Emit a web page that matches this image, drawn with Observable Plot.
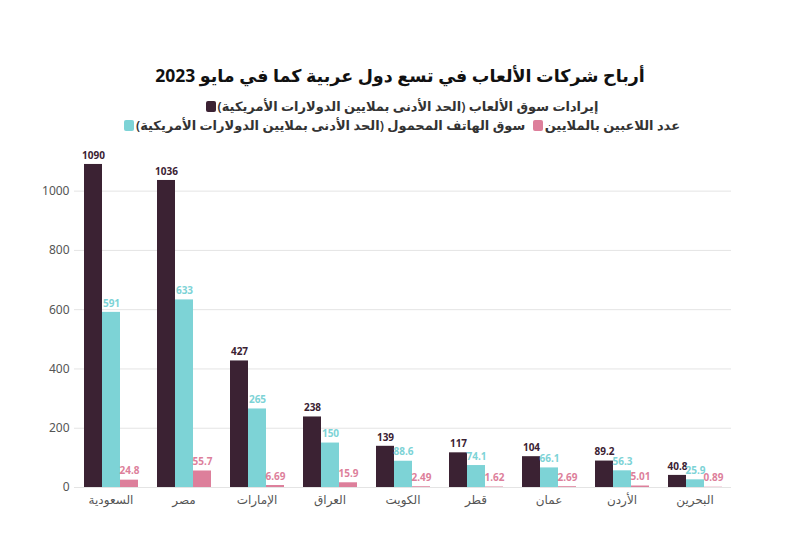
<!DOCTYPE html>
<html>
<head>
<meta charset="utf-8">
<script src="https://cdn.jsdelivr.net/npm/d3@7"></script>
<script src="https://cdn.jsdelivr.net/npm/@observablehq/plot@0.6"></script>
<style>
  body { margin: 0; background: #fff; width: 800px; height: 559px; position: relative; overflow: hidden;
         font-family: "Noto Sans", "DejaVu Sans", sans-serif; }
  #title { position: absolute; top: 63px; left: 0; width: 800px; text-align: center; direction: rtl;
           font-size: 17.5px; font-weight: 700; color: #111; }
  #legend { position: absolute; top: 97px; left: 50px; width: 700px; text-align: center; direction: rtl;
            font-size: 13px; font-weight: 600; color: #333; line-height: 19px; }
  .sw { display: inline-block; width: 10px; height: 11px; border-radius: 2px; vertical-align: -1px; margin: 0 2px 0 4px; }
  #chart { position: absolute; top: 140px; left: 0; }
</style>
</head>
<body>
<div id="title">أرباح شركات الألعاب في تسع دول عربية كما في مايو 2023</div>
<div id="legend"></div>
<div id="chart"></div>
<script>
const countries = ["السعودية", "مصر", "الإمارات", "العراق", "الكويت", "قطر", "عمان", "الأردن", "البحرين"];
const seriesNames = [
  "إيرادات سوق الألعاب (الحد الأدنى بملايين الدولارات الأمريكية)",
  "سوق الهاتف المحمول (الحد الأدنى بملايين الدولارات الأمريكية)",
  "عدد اللاعبين بالملايين"
];
const gamesRevenue = [1090, 1036, 427, 238, 139, 117, 104, 89.2, 40.8];
const mobileMarket = [591, 633, 265, 150, 88.6, 74.1, 66.1, 56.3, 25.9];
const players = [24.8, 55.7, 6.69, 15.9, 2.49, 1.62, 2.69, 5.01, 0.89];
const colors = ["#3b2233", "#7dd3d6", "#dd7f9b"];
const legendOrder = [0, 2, 1];
const yTicks = [0, 200, 400, 600, 800, 1000];

const seriesValues = [gamesRevenue, mobileMarket, players];
const data = [];
countries.forEach((c, i) => {
  seriesNames.forEach((s, j) => {
    data.push({country: c, series: s, value: seriesValues[j][i], label: String(seriesValues[j][i])});
  });
});

// legend
const legend = document.getElementById("legend");
legend.innerHTML = legendOrder.map((j, k) =>
  `<span style="white-space:nowrap">${seriesNames[j]}<span class="sw" style="background:${colors[j]}"></span></span>` + (k === 0 ? "<br>" : " ")
).join("");

const plot = Plot.plot({
  width: 800,
  height: 380,
  marginTop: 21,
  marginBottom: 33,
  marginLeft: 72,
  marginRight: 68,
  style: {fontFamily: '"Noto Sans", "DejaVu Sans", sans-serif', fontSize: "12px", color: "#555", background: "#fff"},
  fx: {domain: countries, padding: 0, label: null, axis: "bottom", tickSize: 0, tickPadding: 8},
  x: {domain: seriesNames, paddingInner: 0, paddingOuter: 0.48, axis: null},
  y: {domain: [0, 1100], ticks: yTicks, tickFormat: d => String(d), label: null, tickSize: 0, tickPadding: 5},
  color: {domain: seriesNames, range: colors},
  marks: [
    Plot.gridY(yTicks, {stroke: "#e4e4e4", strokeOpacity: 1}),
    Plot.barY(data, {fx: "country", x: "series", y: "value", fill: "series"}),
    Plot.text(data.filter(d => d.series === seriesNames[0]), {fx: "country", x: "series", y: "value", text: "label", dy: -9, fill: colors[0], fontWeight: 700, fontSize: 10}),
    Plot.text(data.filter(d => d.series === seriesNames[1]), {fx: "country", x: "series", y: "value", text: "label", dy: -9, fill: colors[1], fontWeight: 700, fontSize: 10}),
    Plot.text(data.filter(d => d.series === seriesNames[2]), {fx: "country", x: "series", y: "value", text: "label", dy: -9, fill: colors[2], fontWeight: 700, fontSize: 10})
  ]
});
document.getElementById("chart").appendChild(plot);
</script>
</body>
</html>
